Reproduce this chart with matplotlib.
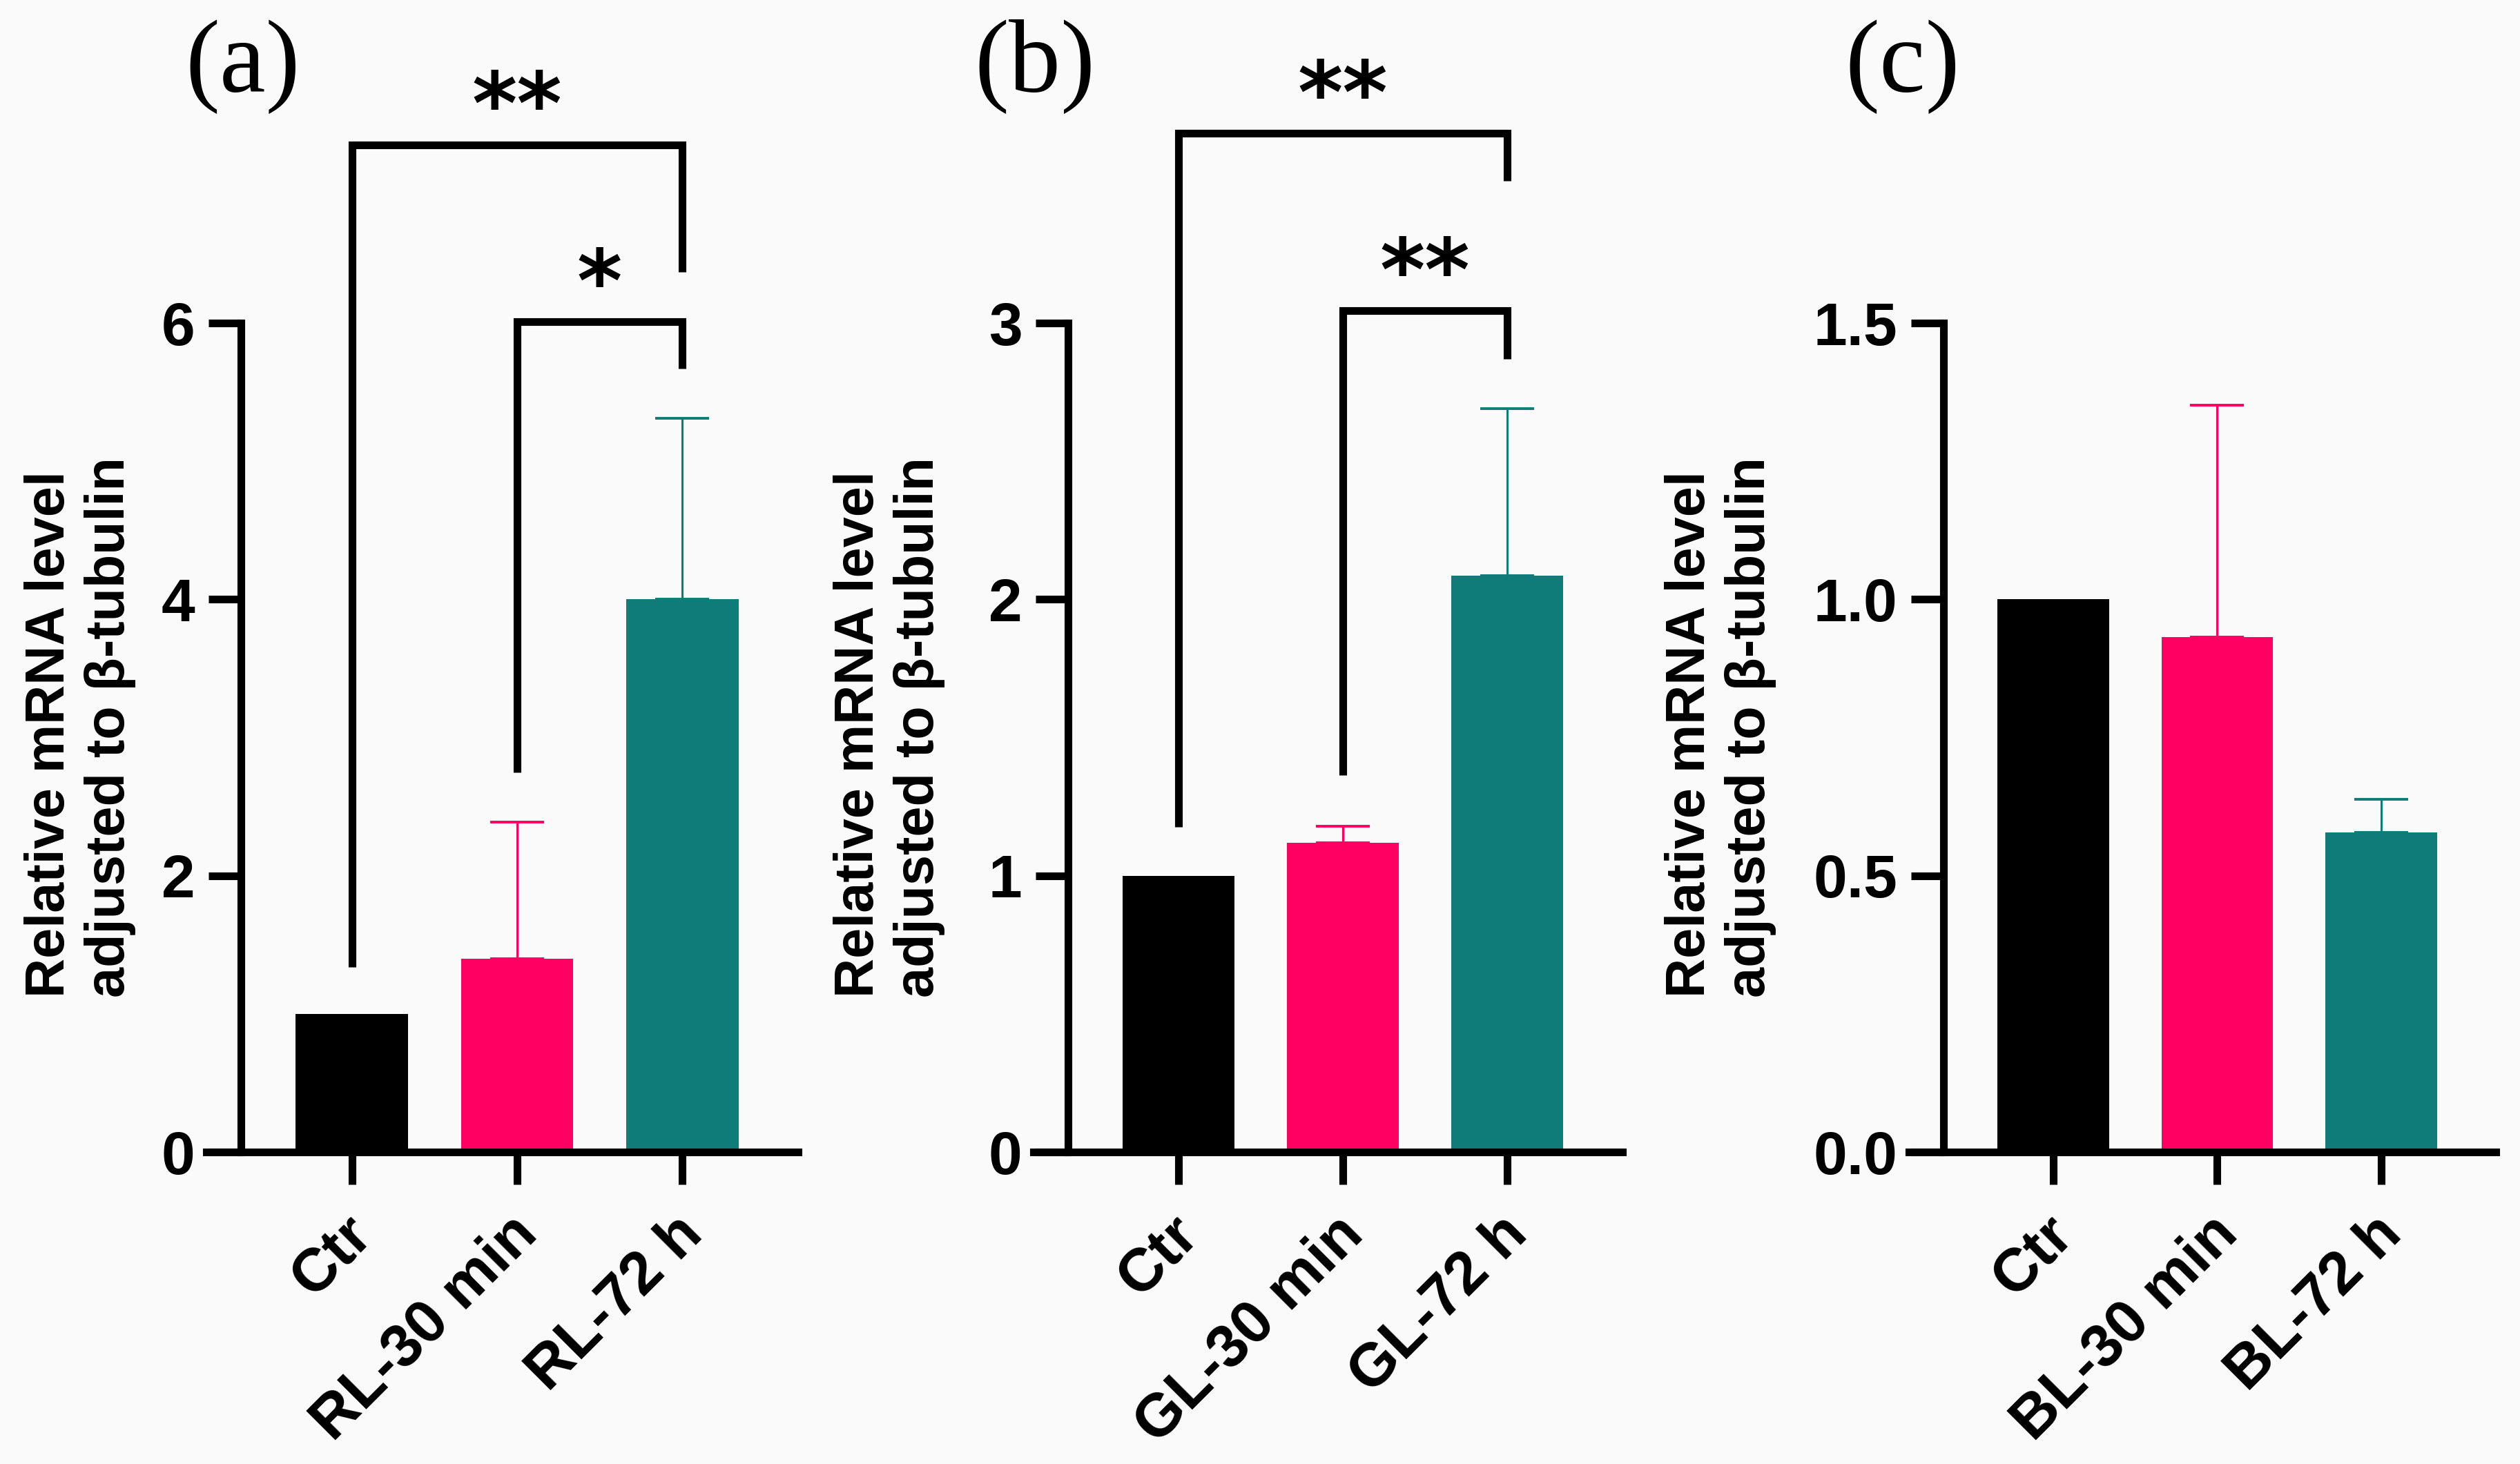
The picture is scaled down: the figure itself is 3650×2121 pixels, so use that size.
import numpy as np
import matplotlib.pyplot as plt
from matplotlib import transforms

plt.rcParams['font.family'] = ['Liberation Sans', 'DejaVu Sans']

# data
groups_a = ['Ctr', 'RL-30 min', 'RL-72 h']
groups_b = ['Ctr', 'GL-30 min', 'GL-72 h']
groups_c = ['Ctr', 'BL-30 min', 'BL-72 h']
mean_a = [1.0, 1.40, 4.00]
sd_a = [0.0, 0.99, 1.31]
mean_b = [1.0, 1.12, 2.085]
sd_b = [0.0, 0.06, 0.605]
mean_c = [1.0, 0.932, 0.578]
sd_c = [0.0, 0.42, 0.06]

yticks_a = [0, 2, 4, 6]
yticks_b = [0, 1, 2, 3]
yticks_c = [0, 0.5, 1.0, 1.5]
ytl_a = ['0', '2', '4', '6']
ytl_b = ['0', '1', '2', '3']
ytl_c = ['0.0', '0.5', '1.0', '1.5']

# significance brackets: (x0, x1, y, left leg end, right leg end, star y, text)
sig_a = [(0, 2, 7.29, 1.34, 6.37, 7.68, '**'),
         (1, 2, 6.01, 2.75, 5.67, 6.40, '*')]
sig_b = [(0, 2, 3.686, 1.176, 3.514, 3.88, '**'),
         (1, 2, 3.044, 1.364, 2.87, 3.24, '**')]
sig_c = []

colors = ['#000000', '#FF0062', '#107C79']
bg = '#FAFAFA'

fig = plt.figure(figsize=(36.5, 21.21), dpi=100, facecolor=bg)

panels = [
    ('(a)', groups_a, mean_a, sd_a, yticks_a, ytl_a, sig_a, [0.0819, 0.2131, 0.2348, 0.5662], 0.0964, 0.0318),
    ('(b)', groups_b, mean_b, sd_b, yticks_b, ytl_b, sig_b, [0.4101, 0.2131, 0.2337, 0.5662], 0.4107, 0.3529),
    ('(c)', groups_c, mean_c, sd_c, yticks_c, ytl_c, sig_c, [0.7575, 0.2131, 0.2330, 0.5662], 0.755, 0.6827),
]

lw = 8
shift = transforms.ScaledTranslation(-0.12, 0, fig.dpi_scale_trans)
for tag, groups, mean, sd, yt, ytl, sig, pos, tagx, labx in panels:
    ax = fig.add_axes(pos)
    ax.set_facecolor(bg)
    x = np.arange(len(groups))
    ax.bar(x, mean, width=0.68, color=colors, zorder=2)
    for i in range(len(x)):
        if sd[i] > 0:
            ax.errorbar(x[i], mean[i], yerr=[[0], [sd[i]]], fmt='none',
                        ecolor=colors[i], elinewidth=2.2, capsize=28,
                        capthick=2.8, zorder=1)
    ax.set_xlim(-0.88, 2.70)
    ax.set_ylim(yt[0], yt[-1])
    ax.spines['top'].set_visible(False)
    ax.spines['right'].set_visible(False)
    ax.spines['left'].set_position(('data', -0.67))
    ax.spines['left'].set_linewidth(lw)
    ax.spines['bottom'].set_linewidth(lw)
    ax.set_yticks(yt)
    ax.set_yticklabels(ytl, fontsize=63, fontweight='bold')
    ax.set_xticks(x)
    ax.set_xticklabels(groups, fontsize=63, fontweight='bold', rotation=45,
                       ha='right', va='top', rotation_mode='anchor')
    ax.tick_params(axis='both', length=34, width=lw, pad=14)
    ax.tick_params(axis='x', pad=22)
    for lab in ax.get_xticklabels():
        lab.set_transform(lab.get_transform() + shift)

    for x0, x1, yb, yl, yr, ys, txt in sig:
        ax.plot([x0, x0, x1, x1], [yl, yb, yb, yr], color='black', lw=lw,
                solid_joinstyle='miter', solid_capstyle='butt', clip_on=False)
        fs = 90
        tr = transforms.offset_copy(ax.transData, fig=fig, y=-0.50 * fs, units='points')
        ax.text((x0 + x1) / 2, ys, txt, transform=tr, fontsize=fs,
                family='DejaVu Sans', fontweight='bold',
                ha='center', va='baseline', clip_on=False)

    fig.text(tagx, 0.9373, tag, fontsize=108, family='Liberation Serif',
             ha='center', va='baseline')
    fig.text(labx, 0.5035, 'Relative mRNA level\nadjusted to \u03b2-tubulin',
             fontsize=57, fontweight='bold', rotation=90, ha='center',
             va='center', multialignment='left')

plt.savefig('out.png', dpi=100, facecolor=bg)
